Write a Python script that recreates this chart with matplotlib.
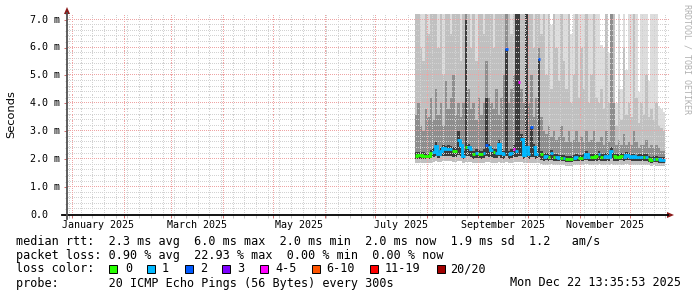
import datetime as dt
import numpy as np
import matplotlib
matplotlib.use("Agg")
import matplotlib.pyplot as plt
import matplotlib.dates as mdates
from matplotlib.ticker import MultipleLocator, NullFormatter
from matplotlib.patches import Polygon, Rectangle
from matplotlib.lines import Line2D

# ---------------- data ----------------
data_start = dt.datetime(2025, 7, 25)
step_days = 1.5

median = [2.13, 2.14, 2.14, 2.13, 2.12, 2.10, 2.22, 2.26, 2.48, 2.18,
          2.30, 2.40, 2.36, 2.38, 2.36, 2.30, 2.28, 2.68, 2.52, 2.12,
          2.44, 2.42, 2.36, 2.17, 2.22, 2.20, 2.18, 2.22, 2.50, 2.44,
          2.32, 2.25, 2.22, 2.54, 2.22, 2.17, 5.93, 2.18, 2.22, 2.38,
          2.30, 4.76, 2.74, 2.14, 2.44, 2.17, 3.15, 2.44, 2.20, 5.60,
          2.18, 2.08, 2.10, 2.08, 2.22, 2.08, 2.06, 2.05, 2.04, 2.03,
          2.00, 2.00, 2.00, 2.05, 2.06, 2.05, 2.05, 2.08, 2.18, 2.08,
          2.08, 2.08, 2.10, 2.20, 2.08, 2.08, 2.10, 2.08, 2.30, 2.10,
          2.08, 2.08, 2.12, 2.08, 2.14, 2.12, 2.08, 2.10, 2.06, 2.08,
          2.08, 2.08, 2.08, 2.00, 1.98, 2.02, 2.00, 1.99, 1.97, 1.96]

loss = [0, 0, 0, 0, 0, 0, 0, 1, 1, 1,
        1, 1, 1, 1, 1, 0, 0, 1, 1, 1,
        0, 1, 1, 0, 1, 0, 0, 1, 2, 1,
        1, 0, 1, 1, 1, 1, 2, 1, 1, 4,
        1, 4, 1, 1, 1, 1, 2, 1, 1, 2,
        0, 1, 1, 0, 1, 0, 1, 1, 0, 1,
        0, 0, 0, 1, 1, 0, 0, 1, 1, 1,
        0, 0, 0, 1, 0, 1, 1, 1, 1, 0,
        0, 0, 0, 1, 1, 1, 1, 1, 1, 1,
        1, 0, 1, 0, 0, 1, 0, 1, 1, 1]

# smoke: upper edges of the grey bands (outer/light -> inner/dark)
smoke_hi1 = [7.2] * 50 + [
    7.2, 7.2, 7.2, 7.2, 6.8, 7.2, 7.2, 7.2, 7.2, 7.2,
    7.2, 7.2, 6.5, 7.2, 7.2, 7.2, 7.2, 7.2, 7.2, 7.2,
    7.2, 7.2, 7.2, 7.2, 6.1, 6.0, 7.2, 5.8, 7.2, 7.2,
    4.0, 7.2, 4.5, 7.2, 5.2, 7.2, 7.2, 7.2, 7.2, 4.4,
    7.2, 7.2, 7.2, 4.8, 7.2, 7.2, 7.2, 3.9, 3.8, 3.7]

smoke_hi2 = [7.2, 7.2, 6.0, 5.5, 7.2, 6.5, 7.2, 7.2, 7.2, 6.0,
             7.2, 5.0, 7.2, 7.2, 6.5, 7.2, 7.2, 7.2, 5.5, 7.2,
             7.2, 7.2, 6.0, 7.2, 5.5, 7.2, 7.2, 6.5, 7.2, 7.2,
             7.2, 6.0, 7.2, 7.2, 7.2, 7.2, 7.2, 7.2, 6.5, 7.2,
             7.2, 7.2, 7.2, 7.2, 7.2, 7.2, 7.2, 6.0, 7.2, 7.2,
             6.5, 7.2, 5.0, 7.2, 4.5, 7.2, 6.0, 4.8, 7.2, 5.5,
             4.5, 7.2, 4.0, 5.0, 7.2, 4.2, 6.0, 4.5, 7.2, 4.0,
             5.0, 7.2, 4.2, 4.0, 4.5, 3.8, 7.2, 4.0, 3.5, 7.2,
             3.2, 4.5, 3.4, 6.0, 3.6, 4.0, 3.5, 7.2, 4.2, 3.3,
             4.0, 3.6, 5.0, 3.5, 3.8, 3.4, 4.0, 3.2, 3.1, 3.0]

smoke_hi3 = [3.6, 4.0, 3.2, 3.0, 3.8, 3.5, 4.2, 3.4, 4.5, 3.6,
             4.0, 3.2, 4.8, 3.8, 4.2, 5.0, 3.6, 4.0, 3.5, 4.0,
             7.2, 4.5, 3.8, 4.0, 3.4, 4.2, 3.6, 4.0, 5.5, 4.2,
             4.0, 3.8, 4.5, 3.6, 4.2, 5.0, 7.2, 4.0, 4.5, 5.0,
             7.2, 7.2, 4.5, 4.0, 7.2, 4.0, 5.0, 3.5, 4.2, 6.0,
             3.5, 3.0, 2.9, 3.2, 2.8, 3.0, 2.7, 2.8, 3.2, 2.8,
             2.6, 3.0, 2.6, 2.7, 3.0, 2.6, 2.8, 2.6, 3.0, 2.6,
             2.7, 3.0, 2.6, 2.6, 2.8, 2.5, 3.0, 2.6, 7.2, 4.0,
             2.5, 2.7, 2.5, 2.9, 2.5, 2.6, 2.5, 3.0, 2.6, 2.4,
             2.5, 2.5, 2.7, 2.4, 2.5, 2.4, 2.5, 2.4, 2.3, 2.3]

smoke_hi4 = [2.25, 2.25, 2.25, 2.25, 2.22, 2.20, 2.32, 2.40, 2.60, 2.32,
             2.42, 2.52, 2.48, 2.50, 2.48, 2.45, 2.42, 3.00, 2.65, 2.30,
             6.97, 2.55, 2.48, 2.30, 2.35, 2.32, 2.30, 2.35, 4.20, 2.55,
             2.45, 2.38, 2.35, 2.70, 2.35, 2.30, 5.93, 2.30, 2.35, 2.50,
             7.20, 7.20, 2.90, 2.28, 7.20, 2.30, 3.15, 2.55, 2.32, 5.60,
             2.28, 2.20, 2.22, 2.20, 2.32, 2.20, 2.18, 2.16, 2.15, 2.14,
             2.12, 2.12, 2.12, 2.16, 2.18, 2.16, 2.16, 2.20, 2.30, 2.20,
             2.18, 2.18, 2.20, 2.30, 2.20, 2.20, 2.22, 2.20, 2.42, 2.22,
             2.18, 2.18, 2.22, 2.18, 2.25, 2.22, 2.18, 2.20, 2.16, 2.18,
             2.18, 2.18, 2.18, 2.10, 2.08, 2.12, 2.10, 2.09, 2.07, 2.06]

# smoke: lower edges (outer/light -> inner/dark)
smoke_lo1 = [1.88, 1.88, 1.88, 1.88, 1.87, 1.87, 1.88, 1.90, 1.92, 1.90,
             1.90, 1.92, 1.92, 1.92, 1.92, 1.90, 1.90, 1.92, 1.92, 1.88,
             1.90, 1.90, 1.90, 1.88, 1.88, 1.88, 1.87, 1.88, 1.90, 1.90,
             1.88, 1.88, 1.88, 1.90, 1.88, 1.87, 1.90, 1.87, 1.88, 1.90,
             1.90, 1.90, 1.90, 1.87, 1.88, 1.87, 1.88, 1.88, 1.86, 1.86,
             1.82, 1.80, 1.80, 1.80, 1.82, 1.80, 1.79, 1.78, 1.78, 1.78,
             1.77, 1.77, 1.77, 1.78, 1.78, 1.78, 1.78, 1.79, 1.82, 1.80,
             1.80, 1.80, 1.80, 1.82, 1.80, 1.80, 1.80, 1.80, 1.84, 1.80,
             1.80, 1.80, 1.80, 1.80, 1.81, 1.80, 1.80, 1.80, 1.79, 1.80,
             1.80, 1.80, 1.80, 1.78, 1.77, 1.78, 1.77, 1.77, 1.76, 1.76]

smoke_lo2 = [2.02, 2.02, 2.02, 2.02, 2.01, 2.00, 2.05, 2.08, 2.12, 2.05,
             2.10, 2.12, 2.12, 2.12, 2.10, 2.08, 2.08, 2.15, 2.12, 2.02,
             2.10, 2.10, 2.08, 2.02, 2.04, 2.04, 2.02, 2.04, 2.10, 2.08,
             2.06, 2.04, 2.04, 2.10, 2.04, 2.02, 2.10, 2.02, 2.04, 2.08,
             2.08, 2.10, 2.10, 2.02, 2.06, 2.02, 2.08, 2.06, 2.02, 2.08,
             1.98, 1.95, 1.96, 1.95, 1.98, 1.95, 1.94, 1.93, 1.92, 1.92,
             1.90, 1.90, 1.90, 1.92, 1.93, 1.92, 1.92, 1.94, 1.98, 1.94,
             1.94, 1.94, 1.95, 1.98, 1.94, 1.94, 1.95, 1.94, 2.00, 1.95,
             1.94, 1.94, 1.96, 1.94, 1.97, 1.96, 1.94, 1.95, 1.93, 1.94,
             1.94, 1.94, 1.94, 1.90, 1.88, 1.90, 1.89, 1.88, 1.87, 1.86]

band_colors = ["#dddddd", "#c0c0c0", "#8e8e8e", "#3c3c3c"]

loss_legend = ["0", "1", "2", "3", "4-5", "6-10", "11-19", "20/20"]
loss_legend_colors = ["#26ff00", "#00b8ff", "#0059ff", "#7e00ff",
                      "#ff00ff", "#ff5500", "#ff0000", "#a10000"]
loss_to_color = {0: "#26ff00", 1: "#00b8ff", 2: "#0059ff", 3: "#7e00ff",
                 4: "#ff00ff", 5: "#ff00ff", 6: "#ff5500", 11: "#ff0000", 20: "#a10000"}

y_tick_values = [0, 1, 2, 3, 4, 5, 6, 7]
y_tick_labels = ["0.0", "1.0 m", "2.0 m", "3.0 m", "4.0 m", "5.0 m", "6.0 m", "7.0 m"]
month_labels = ["January 2025", "March 2025", "May 2025", "July 2025",
                "September 2025", "November 2025"]
month_label_months = [1, 3, 5, 7, 9, 11]

legend_line1 = "median rtt:  2.3 ms avg  6.0 ms max  2.0 ms min  2.0 ms now  1.9 ms sd  1.2   am/s"
legend_line2 = "packet loss: 0.90 % avg  22.93 % max  0.00 % min  0.00 % now"
legend_line3 = "loss color:"
legend_line4_left = "probe:       20 ICMP Echo Pings (56 Bytes) every 300s"
legend_line4_right = "Mon Dec 22 13:35:53 2025"
ylabel = "Seconds"
watermark = "RRDTOOL / TOBI OETIKER"

# ---------------- figure ----------------
W, H = 697, 297
fig = plt.figure(figsize=(W / 100, H / 100), dpi=100)
fig.patch.set_facecolor("white")


def fx(x):
    return x / W


def fy(y):
    return 1 - y / H


AX_L, AX_R, AX_T, AX_B = 67, 668, 14, 215
ax = fig.add_axes([fx(AX_L), fy(AX_B), (AX_R - AX_L) / W, (AX_B - AX_T) / H])
ax.set_facecolor("white")
for s in ax.spines.values():
    s.set_visible(False)

n = len(median)
edges = mdates.date2num([data_start + dt.timedelta(days=step_days * k) for k in range(n + 1)])

his = [smoke_hi1, smoke_hi2, smoke_hi3, smoke_hi4]
los = [smoke_lo1, smoke_lo1, smoke_lo2, smoke_lo2]
for hi, lo, c in zip(his, los, band_colors):
    ax.stairs(np.array(hi), edges, baseline=np.array(lo), fill=True,
              color=c, lw=0, antialiased=False, zorder=1)

# median line, coloured by loss
med = np.array(median)
ls = np.array(loss)
i = 0
while i < n:
    j = i
    while j + 1 < n and ls[j + 1] == ls[i]:
        j += 1
    xs, ys = [], []
    for k in range(i, j + 1):
        xs += [edges[k], edges[k + 1]]
        ys += [med[k], med[k]]
    ax.plot(xs, ys, color=loss_to_color[int(ls[i])], lw=2.0,
            solid_capstyle="butt", solid_joinstyle="miter", zorder=4)
    i = j + 1

x0 = mdates.date2num(dt.datetime(2024, 12, 28, 20))
x1 = mdates.date2num(dt.datetime(2025, 12, 23, 12))
ax.set_xlim(x0, x1)
ax.set_ylim(0, 7.2)

# ticks (short marks outside the axes)
ax.xaxis.set_major_locator(mdates.MonthLocator())
ax.xaxis.set_minor_locator(mdates.WeekdayLocator(byweekday=mdates.MO))
ax.yaxis.set_major_locator(MultipleLocator(1.0))
ax.yaxis.set_minor_locator(MultipleLocator(0.2))
for a in (ax.xaxis, ax.yaxis):
    a.set_major_formatter(NullFormatter())
    a.set_minor_formatter(NullFormatter())
ax.tick_params(which="major", length=2.5, width=0.72, color="#d07070", direction="out")
ax.tick_params(which="minor", length=1.8, width=0.72, color="#c8c8c8", direction="out")

# dotted rrdtool-style grid drawn as single pixels every 2 px
pw = AX_R - AX_L
ph = AX_B - AX_T
dx = (x1 - x0) / pw
dy = 7.2 / ph
xdots = x0 + (np.arange(0, pw, 2) + 0.5) * dx
ydots = (np.arange(0, ph, 2) + 0.5) * dy

x_major = ax.xaxis.get_majorticklocs()
x_minor = [v for v in ax.xaxis.get_minorticklocs()
           if min(abs(v - m) for m in x_major) > 0.5]
y_major = [1, 2, 3, 4, 5, 6, 7]
y_minor = [v for v in ax.yaxis.get_minorticklocs()
           if 0 < v <= 7.2 and min(abs(v - m) for m in y_major) > 0.05]

minor_c = "#d2d2d2"
major_c = "#eea4a4"
for v in y_minor:
    ax.plot(xdots, np.full_like(xdots, v), ls="none", marker=",", color=minor_c, zorder=3)
for v in x_minor:
    if x0 < v < x1:
        ax.plot(np.full_like(ydots, v), ydots, ls="none", marker=",", color=minor_c, zorder=3)
for v in y_major:
    ax.plot(xdots, np.full_like(xdots, v), ls="none", marker=",", color=major_c, zorder=3)
for v in x_major:
    if x0 < v < x1:
        ax.plot(np.full_like(ydots, v), ydots, ls="none", marker=",", color=major_c, zorder=3)

mono = "DejaVu Sans Mono"
for v, lab in zip(y_tick_values, y_tick_labels):
    ax.text((30 - AX_L) / pw, v, lab, transform=ax.get_yaxis_transform(),
            ha="left", va="center", family=mono, size=7.2, color="#000000")
for m, lab in zip(month_label_months, month_labels):
    a = dt.datetime(2025, m, 1)
    b = dt.datetime(2025, m + 1, 1)
    mid = mdates.date2num(a) + (mdates.date2num(b) - mdates.date2num(a)) / 2
    ax.text(mid, -10 / ph, lab, transform=ax.get_xaxis_transform(),
            ha="center", va="center", family=mono, size=7.2, color="#000000")

# axes lines and arrows
fig.add_artist(Line2D([fx(62), fx(668)], [fy(215), fy(215)], color="black", lw=1.3))
fig.add_artist(Line2D([fx(67), fx(67)], [fy(219), fy(13)], color="#505050", lw=1.3))
fig.add_artist(Polygon([(fx(667), fy(212)), (fx(674), fy(215)), (fx(667), fy(218))],
                       closed=True, transform=fig.transFigure, color="#8b1a1a", lw=0))
fig.add_artist(Polygon([(fx(64), fy(14)), (fx(67), fy(7)), (fx(70), fy(14))],
                       closed=True, transform=fig.transFigure, color="#8b1a1a", lw=0))

fig.text(fx(11), fy(114), ylabel, rotation=90, ha="center", va="center",
         family="DejaVu Sans", size=8.2)
fig.text(fx(687), fy(4), watermark, rotation=270, ha="center", va="top",
         family=mono, size=6.0, color="#b0b0b0")

LS = 8.5
fig.text(fx(16), fy(241), legend_line1, ha="left", va="center", family=mono, size=LS)
fig.text(fx(16), fy(255), legend_line2, ha="left", va="center", family=mono, size=LS)
fig.text(fx(16), fy(269), legend_line3, ha="left", va="center", family=mono, size=LS)
fig.text(fx(16), fy(283), legend_line4_left, ha="left", va="center", family=mono, size=LS)
fig.text(fx(681), fy(283), legend_line4_right, ha="right", va="center", family=mono, size=LS)

box_x = [109, 147, 185, 222, 260, 312, 370, 437]
txt_x = [125, 162, 200, 237, 275, 326, 385, 450]
for bx, tx, lab, c in zip(box_x, txt_x, loss_legend, loss_legend_colors):
    fig.add_artist(Rectangle((fx(bx), fy(273)), 8 / W, 8 / H, transform=fig.transFigure,
                             facecolor=c, edgecolor="black", lw=0.7))
    fig.text(fx(tx), fy(269), lab, ha="left", va="center", family=mono, size=LS)

fig.savefig("out.png", dpi=100, facecolor="white")
